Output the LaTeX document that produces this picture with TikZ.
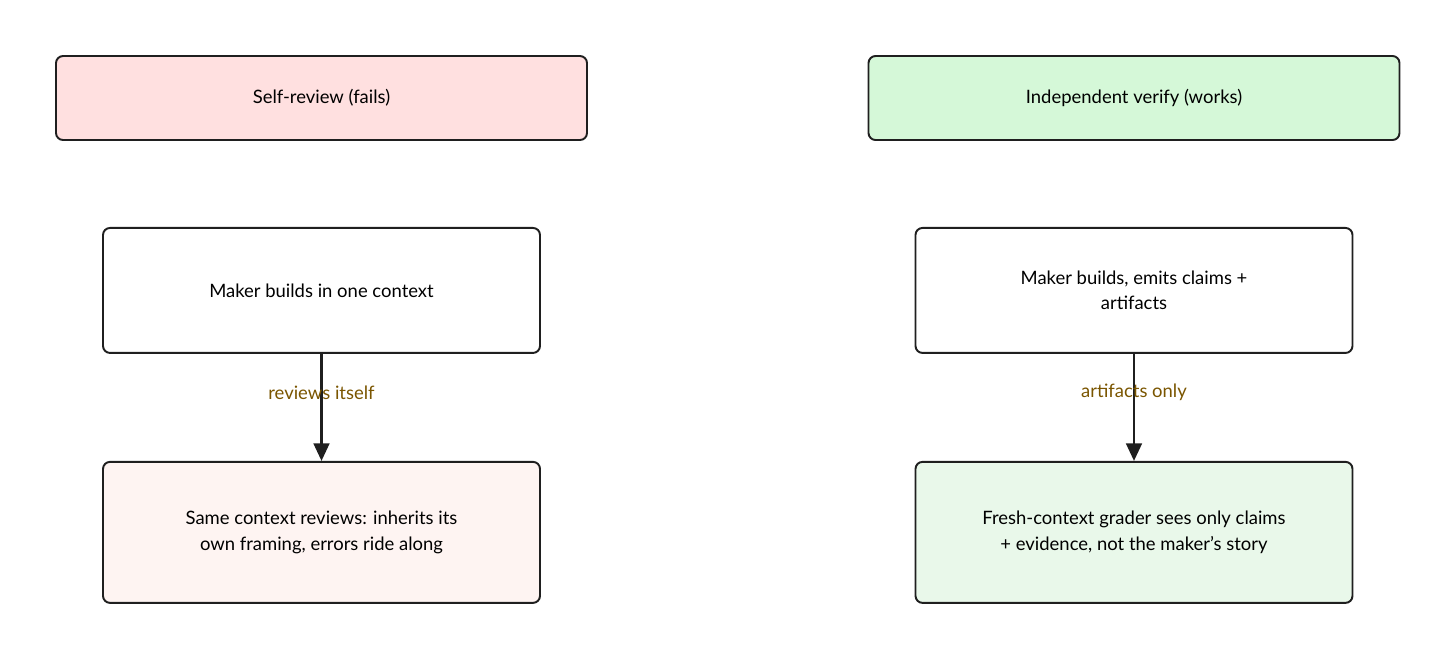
\documentclass[tikz,border=0pt]{standalone}
\usepackage{fontspec}
\setmainfont{Lato}
\usepackage{xcolor}
\usetikzlibrary{arrows.meta, positioning}
\definecolor{failhead}{HTML}{FFE0E0}
\definecolor{failbody}{HTML}{FEF4F2}
\definecolor{workhead}{HTML}{D5F8D8}
\definecolor{workbody}{HTML}{E9F8EA}
\definecolor{edgetext}{HTML}{7A5500}
\tikzset{
  header/.style={rectangle, rounded corners=4pt, draw=black!88, line width=1.1pt, minimum width=10.62cm, minimum height=1.68cm, align=center, font=\fontsize{10.5}{14.5}\selectfont},
  stepbox/.style={rectangle, rounded corners=4pt, draw=black!88, line width=1.1pt, minimum width=8.74cm, minimum height=2.5cm, align=center, fill=white, font=\fontsize{10.5}{14.5}\selectfont},
  resultbox/.style={stepbox, minimum height=2.82cm},
  arrow/.style={line width=1.3pt, draw=black!88, -{Triangle[length=10pt, width=9pt]}},
  edgelabel/.style={font=\fontsize{10.5}{12}\selectfont, text=edgetext}
}
\begin{document}
\begin{tikzpicture}
\useasboundingbox (0,0) rectangle (29.12,-13.18);

% Self-review column
\node (selfhead) [header, fill=failhead] at (6.43,-1.96) {Self-review (fails)};
\node (selfmaker) [stepbox, below=1.72cm of selfhead] {Maker builds in one context};
\node (selfreview) [resultbox, fill=failbody, below=2.14cm of selfmaker] {Same context reviews: inherits its\\own framing, errors ride along};

% Independent verify column
\node (verhead) [header, fill=workhead] at (22.68,-1.96) {Independent verify (works)};
\node (vermaker) [stepbox, below=1.72cm of verhead] {Maker builds, emits claims +\\artifacts};
\node (vergrader) [resultbox, fill=workbody, below=2.14cm of vermaker] {Fresh-context grader sees only claims\\+ evidence, not the maker's story};

% Arrows
\draw [arrow] (selfmaker) -- node[edgelabel, pos=0.36] {reviews itself} (selfreview);
\draw [arrow] (vermaker) -- node[edgelabel, pos=0.36] {artifacts only} (vergrader);

\end{tikzpicture}
\end{document}
